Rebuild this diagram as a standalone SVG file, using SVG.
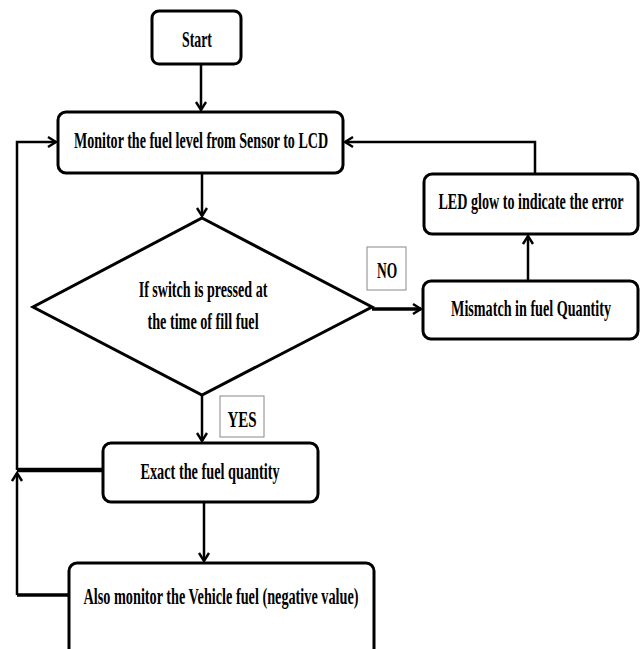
<svg xmlns="http://www.w3.org/2000/svg" width="641" height="649" viewBox="0 0 641 649">
<style>
.box{fill:#fff;stroke:#000;stroke-width:3}
.lbl{fill:#fff;stroke:#888;stroke-width:1}
.t{font-family:"Liberation Serif","Times New Roman",serif;font-weight:bold;font-size:23px;fill:#000;text-anchor:middle}
.c{fill:none;stroke:#000;stroke-width:2.5}
</style>
<defs>
<marker id="arr" markerUnits="userSpaceOnUse" markerWidth="12" markerHeight="14" refX="9" refY="6" orient="auto">
<path d="M1,1 L9,6 L1,11" fill="none" stroke="#000" stroke-width="2.4"/>
</marker>
</defs>
<rect width="641" height="649" fill="#fff"/>
<g id="connectors">
<path class="c" d="M201,64 V110" marker-end="url(#arr)"/>
<path class="c" d="M202,173 V216" marker-end="url(#arr)"/>
<path class="c" d="M372,309 H421" style="stroke-width:3.5" marker-end="url(#arr)"/>
<path class="c" d="M528,281 V236" marker-end="url(#arr)"/>
<path class="c" d="M535,174 V142 H345" marker-end="url(#arr)"/>
<path class="c" d="M202,395 V441" marker-end="url(#arr)"/>
<path class="c" d="M204,502 V561" marker-end="url(#arr)"/>
<path class="c" d="M102,470 H17" style="stroke-width:4.5"/>
<path class="c" d="M17,470 V142 H56" marker-end="url(#arr)"/>
<path class="c" d="M69,595 H17" style="stroke-width:3.5"/>
<path class="c" d="M17,595 V473" marker-end="url(#arr)"/>
</g>
<g id="start">
<rect class="box" x="152" y="11" width="89" height="53" rx="7"/>
<text class="t" transform="translate(197,47) scale(0.65,1)" textLength="46" lengthAdjust="spacingAndGlyphs">Start</text>
</g>
<g id="monitor">
<rect class="box" x="58" y="112" width="285" height="61" rx="8"/>
<text class="t" transform="translate(201,148) scale(0.65,1)" textLength="391" lengthAdjust="spacingAndGlyphs">Monitor the fuel level from Sensor to LCD</text>
</g>
<g id="decision">
<polygon class="box" points="202,218 372,307 202,395 33,307"/>
<text class="t" transform="translate(203,297) scale(0.65,1)" textLength="198" lengthAdjust="spacingAndGlyphs">If switch is pressed at</text>
<text class="t" transform="translate(203,329) scale(0.65,1)" textLength="171" lengthAdjust="spacingAndGlyphs">the time of fill fuel</text>
</g>
<g id="no-label">
<rect class="lbl" x="367" y="247" width="39" height="43"/>
<text class="t" transform="translate(387,278) scale(0.65,1)" textLength="31" lengthAdjust="spacingAndGlyphs">NO</text>
</g>
<g id="mismatch">
<rect class="box" x="423" y="281" width="215" height="58" rx="8"/>
<text class="t" transform="translate(531,316) scale(0.65,1)" textLength="246" lengthAdjust="spacingAndGlyphs">Mismatch in fuel Quantity</text>
</g>
<g id="led">
<rect class="box" x="424" y="174" width="214" height="60" rx="8"/>
<text class="t" transform="translate(531,209) scale(0.65,1)" textLength="285" lengthAdjust="spacingAndGlyphs">LED glow to indicate the error</text>
</g>
<g id="yes-label">
<rect class="lbl" x="220" y="396" width="44" height="41"/>
<text class="t" transform="translate(242,427) scale(0.65,1)" textLength="45" lengthAdjust="spacingAndGlyphs">YES</text>
</g>
<g id="exact">
<rect class="box" x="103" y="443" width="215" height="59" rx="8"/>
<text class="t" transform="translate(210,479) scale(0.65,1)" textLength="214" lengthAdjust="spacingAndGlyphs">Exact the fuel quantity</text>
</g>
<g id="also">
<rect class="box" x="69" y="563" width="305" height="100" rx="8"/>
<text class="t" transform="translate(221,604) scale(0.65,1)" textLength="423" lengthAdjust="spacingAndGlyphs">Also monitor the Vehicle fuel (negative value)</text>
</g>
</svg>
